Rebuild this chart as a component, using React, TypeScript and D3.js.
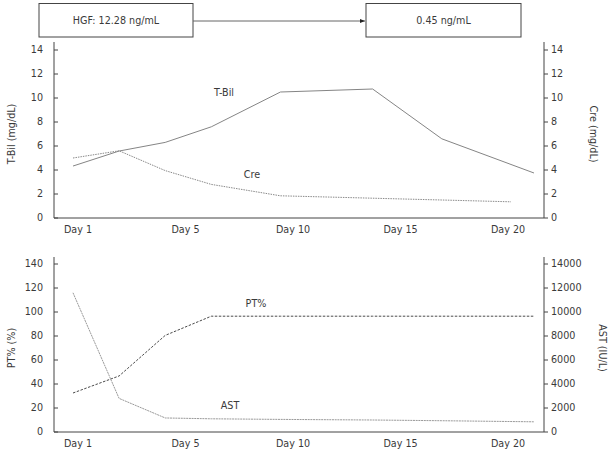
import React from "react";
import * as d3 from "d3";

const W = 614, H = 455;
const FONT = "DejaVu Sans, Verdana, sans-serif";

const dayLabels = ["Day 1", "Day 5", "Day 10", "Day 15", "Day 20"];

const tbilDays = [1, 3, 5, 7, 10, 14, 17, 21];
const tbilValues = [4.33, 5.58, 6.3, 7.6, 10.5, 10.75, 6.6, 3.75];

const creDays = [1, 3, 5, 7, 10, 14, 17, 20];
const creValues = [5.0, 5.6, 3.95, 2.8, 1.85, 1.65, 1.5, 1.35];

const ptDays = [1, 3, 5, 7, 10, 14, 17, 21];
const ptValues = [32.5, 46.7, 80.5, 96.5, 96.5, 96.5, 96.5, 96.5];

const astDays = [1, 3, 5, 7, 10, 14, 17, 21];
const astValues = [11600, 2800, 1170, 1100, 1050, 1000, 940, 850];

const topTicks = [0, 2, 4, 6, 8, 10, 12, 14];
const ptTicks = [0, 20, 40, 60, 80, 100, 120, 140];
const astTicks = [0, 2000, 4000, 6000, 8000, 10000, 12000, 14000];

const boxLeftText = "HGF: 12.28 ng/mL";
const boxRightText = "0.45 ng/mL";

const X0 = 54, X1 = 544;
const x = d3.scaleLinear().domain([1, 21]).range([73, 534]);
const xLab = d3.scalePoint<string>().domain(dayLabels).range([78, 508]);

const yTop = d3.scaleLinear().domain([0, 14]).range([218, 50]);
const yPt = d3.scaleLinear().domain([0, 140]).range([432, 264]);
const yAst = d3.scaleLinear().domain([0, 14000]).range([432, 264]);

function pathOf(days: number[], vals: number[], y: d3.ScaleLinear<number, number>) {
  const line = d3.line<number>().x((_, i) => x(days[i])).y((v) => y(v));
  return line(vals) || "";
}

function Panel({ yL, yR, ticksL, ticksR, titleL, titleR, axisTop }: any) {
  const y0 = yL(0);
  const mid = (yL(0) + yL(ticksL[ticksL.length - 1])) / 2;
  return (
    <g fontFamily={FONT} fontSize={9.6} fill="#3a3a3a">
      <line x1={X0} x2={X0} y1={axisTop} y2={y0} stroke="#444" />
      <line x1={X1} x2={X1} y1={axisTop} y2={y0} stroke="#444" />
      <line x1={X0} x2={X1} y1={y0} y2={y0} stroke="#444" />
      {ticksL.map((t: number) => (
        <g key={"l" + t}>
          <line x1={X0} x2={X0 + 4} y1={yL(t)} y2={yL(t)} stroke="#444" />
          <text x={X0 - 11} y={yL(t)} dy="0.35em" textAnchor="end">{t}</text>
        </g>
      ))}
      {ticksR.map((t: number) => (
        <g key={"r" + t}>
          <line x1={X1} x2={X1 + 4} y1={yR(t)} y2={yR(t)} stroke="#444" />
          <text x={X1 + 7} y={yR(t)} dy="0.35em" textAnchor="start">{t}</text>
        </g>
      ))}
      {dayLabels.map((d) => (
        <text key={d} x={xLab(d)} y={y0 + 15} textAnchor="middle">{d}</text>
      ))}
      <text transform={`translate(12,${mid}) rotate(-90)`} textAnchor="middle" dy="0.35em">{titleL}</text>
      <text transform={`translate(${titleR.x},${mid}) rotate(90)`} textAnchor="middle" dy="0.35em">{titleR.text}</text>
    </g>
  );
}

export default function App() {
  return (
    <svg width={W} height={H} style={{ position: "absolute", left: 0, top: 0, background: "#fff" }}>
      <defs>
        <marker id="arr" viewBox="0 0 10 10" refX="10" refY="5" markerWidth="5" markerHeight="5" orient="auto">
          <path d="M0,1 L10,5 L0,9 z" fill="#222" />
        </marker>
      </defs>
      <g fontFamily={FONT} fontSize={9.6} fill="#3a3a3a">
        <rect x={39} y={3.5} width={154} height={33.5} fill="#fff" stroke="#444" />
        <rect x={366} y={3.5} width={155} height={33.5} fill="#fff" stroke="#444" />
        <text x={116} y={21} dy="0.35em" textAnchor="middle">{boxLeftText}</text>
        <text x={443.5} y={21} dy="0.35em" textAnchor="middle">{boxRightText}</text>
        <line x1={193} x2={365} y1={21} y2={21} stroke="#666" markerEnd="url(#arr)" />
      </g>

      <Panel yL={yTop} yR={yTop} ticksL={topTicks} ticksR={topTicks} titleL="T-Bil (mg/dL)"
        titleR={{ x: 593, text: "Cre (mg/dL)" }} axisTop={42} />
      <path d={pathOf(tbilDays, tbilValues, yTop)} fill="none" stroke="#858585" strokeWidth={1} />
      <path d={pathOf(creDays, creValues, yTop)} fill="none" stroke="#8a8a8a" strokeWidth={1} strokeDasharray="1.5,1" />
      <g fontFamily={FONT} fontSize={9.6} fill="#3a3a3a">
        <text x={224} y={93} dy="0.35em" textAnchor="middle">T-Bil</text>
        <text x={252} y={175} dy="0.35em" textAnchor="middle">Cre</text>
      </g>

      <Panel yL={yPt} yR={yAst} ticksL={ptTicks} ticksR={astTicks} titleL="PT% (%)"
        titleR={{ x: 602, text: "AST (IU/L)" }} axisTop={257} />
      <path d={pathOf(ptDays, ptValues, yPt)} fill="none" stroke="#4a4a4a" strokeWidth={1} strokeDasharray="2.5,1.5" />
      <path d={pathOf(astDays, astValues, yAst)} fill="none" stroke="#9a9a9a" strokeWidth={1} strokeDasharray="2,0.7" />
      <g fontFamily={FONT} fontSize={9.6} fill="#3a3a3a">
        <text x={256} y={304} dy="0.35em" textAnchor="middle">PT%</text>
        <text x={230} y={406} dy="0.35em" textAnchor="middle">AST</text>
      </g>
    </svg>
  );
}
